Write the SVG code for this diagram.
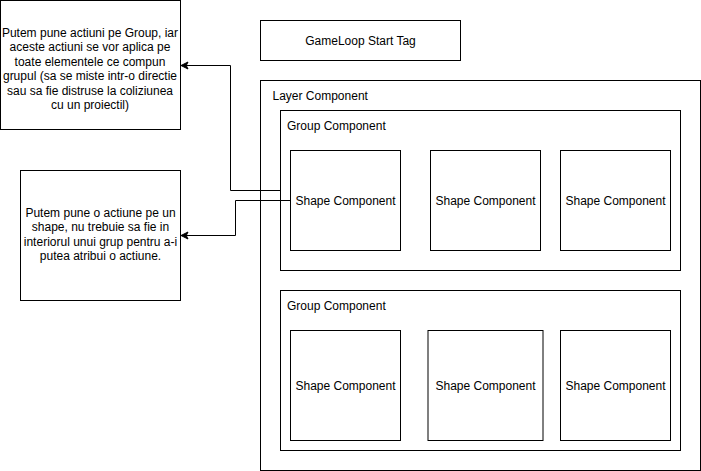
<svg xmlns="http://www.w3.org/2000/svg" width="701" height="471" viewBox="0 0 701 471">
<style>
.box{fill:#fff;stroke:#000;stroke-width:1}
.gray{fill:#fff;stroke:#000;stroke-width:1}
.t{font-family:"Liberation Sans",Arial,Helvetica,sans-serif;font-size:12px;fill:#000}
.c{text-anchor:middle}
.edge{fill:none;stroke:#000;stroke-width:1}
</style>
<defs>
<marker id="arr" markerUnits="userSpaceOnUse" markerWidth="10" markerHeight="10" viewBox="0 0 10 10" refX="8" refY="5" orient="auto">
<path d="M8,5 L1,1.5 L2.75,5 L1,8.5 Z" fill="#000" stroke="#000" stroke-width="1"/>
</marker>
</defs>
<rect width="701" height="471" fill="#fff"/>
<g id="note-group">
<rect class="box" x="0.5" y="0.5" width="180" height="129"/>
<text class="t c" x="90" y="36.5">Putem pune actiuni pe Group, iar</text>
<text class="t c" x="90" y="51">aceste actiuni se vor aplica pe</text>
<text class="t c" x="90" y="65.5">toate elementele ce compun</text>
<text class="t c" x="90" y="80">grupul (sa se miste intr-o directie</text>
<text class="t c" x="90" y="94.5">sau sa fie distruse la coliziunea</text>
<text class="t c" x="90" y="109">cu un proiectil)</text>
</g>
<g id="note-shape">
<rect class="box" x="20.5" y="170.5" width="160" height="130"/>
<text class="t c" x="100.5" y="216.5">Putem pune o actiune pe un</text>
<text class="t c" x="100.5" y="231">shape, nu trebuie sa fie in</text>
<text class="t c" x="100.5" y="245.5">interiorul unui grup pentru a-i</text>
<text class="t c" x="100.5" y="260">putea atribui o actiune.</text>
</g>
<g id="gameloop">
<rect class="box" x="260.5" y="20.5" width="200" height="40"/>
<text class="t c" x="360.5" y="44.5">GameLoop Start Tag</text>
</g>
<g id="layer">
<rect class="box" x="260.5" y="80.5" width="440" height="390"/>
<text class="t" x="272.5" y="99.5">Layer Component</text>
</g>
<g id="group1">
<rect class="box" x="280.5" y="110.5" width="400" height="160"/>
<text class="t" x="287" y="129.5">Group Component</text>
</g>
<g id="shape1a">
<rect class="box" x="290.5" y="150.5" width="110" height="100"/>
<text class="t c" x="345.5" y="204.5">Shape Component</text>
</g>
<g id="shape1b">
<rect class="box" x="430.5" y="150.5" width="110" height="100"/>
<text class="t c" x="485.5" y="204.5">Shape Component</text>
</g>
<g id="shape1c">
<rect class="box" x="560.5" y="150.5" width="110" height="100"/>
<text class="t c" x="615.5" y="204.5">Shape Component</text>
</g>
<g id="group2">
<rect class="box" x="280.5" y="290.5" width="400" height="160"/>
<text class="t" x="287" y="309.5">Group Component</text>
</g>
<g id="shape2a">
<rect class="box" x="290.5" y="330.5" width="110" height="110"/>
<text class="t c" x="345.5" y="389.5">Shape Component</text>
</g>
<g id="shape2b">
<rect class="gray" x="428" y="330.5" width="115" height="110"/>
<text class="t c" x="485.5" y="389.5">Shape Component</text>
</g>
<g id="shape2c">
<rect class="box" x="560.5" y="330.5" width="110" height="110"/>
<text class="t c" x="615.5" y="389.5">Shape Component</text>
</g>
<g id="connectors">
<path class="edge" d="M280,190.5 L230.5,190.5 L230.5,65.5 L181,65.5" marker-end="url(#arr)"/>
<path class="edge" d="M290,200.5 L235.5,200.5 L235.5,235.5 L181,235.5" marker-end="url(#arr)"/>
</g>
</svg>
